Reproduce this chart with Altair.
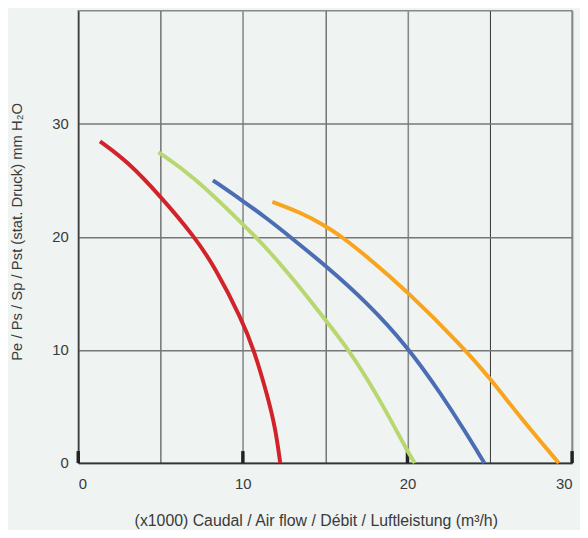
import altair as alt
import pandas as pd

# Curves (x in thousands m3/h, y in mm H2O)
red_x = [1.32, 2.97, 4.97, 7.08, 8.28, 9.94, 10.68, 11.49, 11.98, 12.27]
red_y = [28.45, 26.7, 23.63, 19.98, 17.36, 12.69, 9.98, 5.98, 3.06, 0.0]

green_x = [4.87, 6.98, 9.98, 10.78, 11.49, 12.99, 14.99, 16.4, 18.3, 20.0, 20.44]
green_y = [27.48, 25.38, 21.15, 19.98, 18.9, 16.4, 12.69, 10.1, 5.69, 1.02, 0.0]

blue_x = [8.18, 9.98, 11.49, 12.89, 14.99, 17.5, 20.0, 22.1, 23.51, 24.67]
blue_y = [25.0, 23.2, 21.6, 19.98, 17.5, 14.25, 10.3, 5.98, 2.77, 0.0]

orange_x = [11.79, 13.49, 14.99, 16.0, 17.5, 20.0, 23.3, 25.05, 26.92, 29.19]
orange_y = [23.1, 22.17, 21.0, 20.02, 18.3, 15.17, 10.35, 7.44, 3.9, 0.0]

series_names = ["red", "green", "blue", "orange"]
series_colors = ["#d2232a", "#b9d770", "#4a6db4", "#f8a41c"]

tick_positions = [0, 10, 20, 30]
tick_top = 1.05

rows = []
for name, xs, ys in [("red", red_x, red_y), ("green", green_x, green_y),
                     ("blue", blue_x, blue_y), ("orange", orange_x, orange_y)]:
    for i, (x, y) in enumerate(zip(xs, ys)):
        rows.append({"series": name, "x": x, "y": y, "order": i})
df = pd.DataFrame(rows)

ticks_df = pd.DataFrame({"x": tick_positions, "y0": [0] * 4, "y1": [tick_top] * 4})

FONT = "Liberation Sans"
TXT = "#3a3a3a"

x_scale = alt.Scale(domain=[0, 30], nice=False)
y_scale = alt.Scale(domain=[0, 40], nice=False)

x_axis = alt.Axis(
    values=[0, 5, 10, 15, 20, 25, 30],
    labelExpr="datum.value % 10 === 0 ? datum.label : ''",
    title="(x1000) Caudal / Air flow / Débit / Luftleistung (m³/h)",
    grid=True,
    gridColor={"condition": {"test": "datum.value % 10 === 0", "value": "#888888"}, "value": "#333333"},
    gridWidth={"condition": {"test": "datum.value % 10 === 0", "value": 1.6}, "value": 1},
    ticks=False, tickSize=0,
    labelPadding=14,
    labelFontSize=15, labelColor=TXT, labelFont=FONT,
    domainColor="#333333", domainWidth=1.5,
    titleFontSize=16, titleFont=FONT, titleColor=TXT, titleFontWeight="normal",
    titleX=240, titleY=58, titleBaseline="middle", titleAlign="center",
)

y_axis = alt.Axis(
    values=[0, 10, 20, 30],
    title="Pe / Ps / Sp / Pst (stat. Druck) mm H₂O",
    grid=True, gridColor="#777777", gridWidth=1.5,
    ticks=False, tickSize=0,
    labelPadding=10,
    labelFontSize=15, labelColor=TXT, labelFont=FONT,
    domainColor="#333333", domainWidth=1.2,
    titleFontSize=15, titleFont=FONT, titleColor=TXT, titleFontWeight="normal",
    titleX=-62, titleY=223, titleAngle=-90, titleBaseline="middle", titleAlign="center",
)

ticks = alt.Chart(ticks_df).mark_rule(color="#222222", strokeWidth=3.5).encode(
    x=alt.X("x:Q", scale=x_scale, axis=x_axis),
    y=alt.Y("y0:Q", scale=y_scale, axis=y_axis),
    y2="y1:Q",
)

lines = alt.Chart(df).mark_line(interpolate="basis", strokeWidth=4, strokeCap="butt").encode(
    x=alt.X("x:Q", scale=x_scale, axis=x_axis),
    y=alt.Y("y:Q", scale=y_scale, axis=y_axis),
    color=alt.Color("series:N", scale=alt.Scale(domain=series_names, range=series_colors), legend=None),
    detail="series:N",
    order="order:Q",
)

chart = alt.layer(ticks, lines).properties(
    width=499, height=457,
    background="#eff3f2",
    padding={"left": 71, "top": 0, "right": 8, "bottom": 65},
    autosize=alt.AutoSizeParams(type="none"),
).configure_view(stroke="#888888", strokeWidth=1.5)

chart.save("out.html", embed_options={"renderer": "svg", "actions": False})
